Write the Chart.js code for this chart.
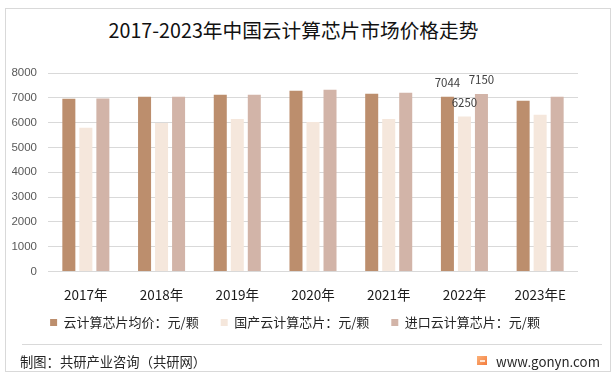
<!DOCTYPE html>
<html>
<head>
<meta charset="utf-8">
<script src="https://cdn.jsdelivr.net/npm/chart.js"></script>
<style>
  body { margin: 0; background: #fff; font-family: "Noto Sans CJK SC", sans-serif; }
  #wrap { position: relative; width: 615px; height: 382px; overflow: hidden; }
  #frame { position: absolute; left: 5px; top: 8px; width: 604px; height: 362px; border: 1px solid #d9d9d9; }
  #title { position: absolute; left: 0; width: 587px; top: 17px; text-align: center; font-size: 19.7px; line-height: 26px; color: #111; }
  #chart { position: absolute; left: 0; top: 0; }
  #sep { position: absolute; left: 22px; top: 344px; width: 580px; height: 1px; background: #d9d9d9; }
  #source { position: absolute; left: 20px; top: 353px; font-size: 13.3px; line-height: 18px; color: #262626; }
  #site { position: absolute; left: 496px; top: 353px; font-size: 13.3px; line-height: 18px; color: #262626; }
  #logo { position: absolute; left: 477px; top: 356px; width: 10px; height: 9px;
          background: linear-gradient(135deg, #fbb27a, #f37b3c); }
  #logo::after { content: ""; position: absolute; left: 3px; top: 4px; width: 5px; height: 2px; background: #fde3d0; }
</style>
</head>
<body>
<div id="wrap">
  <div id="frame"></div>
  <div id="title">2017-2023年中国云计算芯片市场价格走势</div>
  <canvas id="chart" width="615" height="382"></canvas>
  <div id="sep"></div>
  <div id="source">制图：共研产业咨询（共研网）</div>
  <div id="logo"></div>
  <div id="site">www.gonyn.com</div>
</div>
<script>
const years = ['2017年', '2018年', '2019年', '2020年', '2021年', '2022年', '2023年E'];
const avgPrice = [6965, 7040, 7120, 7280, 7160, 7044, 6880];
const domesticPrice = [5795, 5980, 6150, 6030, 6150, 6250, 6320];
const importPrice = [6970, 7040, 7120, 7320, 7200, 7150, 7040];
const seriesNames = ['云计算芯片均价：元/颗', '国产云计算芯片：元/颗', '进口云计算芯片：元/颗'];
const labelledYear = '2022年';

const font = '"Noto Sans CJK SC", sans-serif';

// value labels only shown for one year, as in the source
const valueLabels = {
    id: 'valueLabels',
    afterDatasetsDraw(chart) {
        const ctx = chart.ctx;
        const idx = years.indexOf(labelledYear);
        ctx.save();
        ctx.font = '11.5px ' + font;
        ctx.fillStyle = '#404040';
        ctx.textAlign = 'center';
        ctx.textBaseline = 'middle';
        chart.data.datasets.forEach((ds, i) => {
            const bar = chart.getDatasetMeta(i).data[idx];
            ctx.fillText(String(ds.data[idx]), bar.x, bar.y - 14);
        });
        ctx.restore();
    }
};

// x axis is squeezed so the legend sits close; let its labels draw past the box
const unclipX = {
    id: 'unclipX',
    afterLayout(chart) {
        const x = chart.scales.x;
        x.bottom = x.top + 34;
    }
};

new Chart(document.getElementById('chart'), {
    type: 'bar',
    data: {
        labels: years,
        datasets: [
            { label: seriesNames[0], data: avgPrice, backgroundColor: '#bc8e6d' },
            { label: seriesNames[1], data: domesticPrice, backgroundColor: '#f5e7dc' },
            { label: seriesNames[2], data: importPrice, backgroundColor: '#d2b4a8' }
        ]
    },
    options: {
        responsive: false,
        animation: false,
        categoryPercentage: 0.674,
        barPercentage: 0.765,
        layout: { padding: { left: 12, right: 37, top: 73, bottom: 43 } },
        scales: {
            x: {
                grid: { display: false, drawTicks: false },
                border: { display: false },
                ticks: { padding: 15, color: '#1a1a1a', font: { family: font, size: 13.5 } },
                afterFit: s => { s.height = 22.5; }
            },
            y: {
                min: 0,
                max: 8000,
                ticks: {
                    stepSize: 1000, padding: 11, color: '#595959',
                    font: { family: 'Liberation Sans', size: 11.5 },
                    callback: v => String(v)
                },
                grid: { color: '#d9d9d9', drawTicks: false },
                border: { display: false },
                afterFit: s => { s.width = 36; }
            }
        },
        plugins: {
            legend: {
                position: 'bottom',
                labels: { boxWidth: 7, boxHeight: 7, padding: 22, color: '#262626', font: { family: font, size: 13 } }
            },
            tooltip: { enabled: false }
        }
    },
    plugins: [valueLabels, unclipX]
});
</script>
</body>
</html>
